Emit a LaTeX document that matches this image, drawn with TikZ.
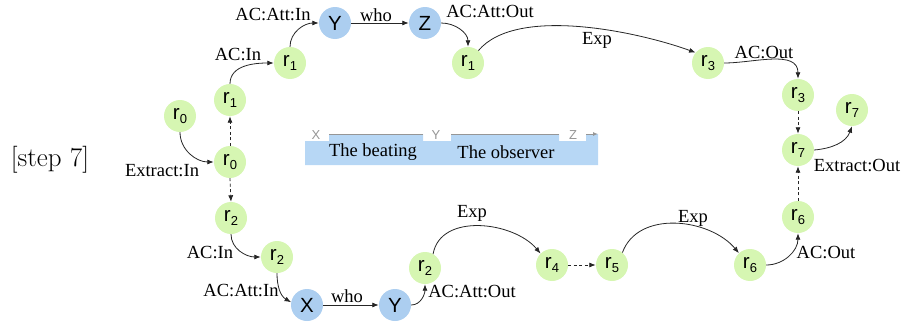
\documentclass[tikz,border=0pt]{standalone}
\usepackage{fontspec}
\newfontfamily\tms{Liberation Serif}
\newfontfamily\hlv{Liberation Sans}
\usetikzlibrary{arrows.meta}
\definecolor{ngreen}{RGB}{214,246,178}
\definecolor{nblue}{RGB}{172,206,240}
\definecolor{barblue}{RGB}{183,215,245}
\definecolor{axgray}{RGB}{150,150,150}
\newcommand\rsub[2]{#1\raisebox{-4pt}{\fontsize{13}{13}\selectfont #2}}
\begin{document}
\begin{tikzpicture}[x=1pt,y=-1pt,
  gnode/.style={circle,fill=ngreen,minimum size=32pt,inner sep=0pt,font=\hlv\fontsize{20.5}{20}\selectfont},
  bnode/.style={circle,fill=nblue,minimum size=32pt,inner sep=0pt,font=\hlv\fontsize{20.5}{20}\selectfont},
  lbl/.style={inner sep=0pt,font=\tms\fontsize{18.5}{20}\selectfont},
  axl/.style={inner sep=0pt,text=axgray,font=\hlv\fontsize{13}{13}\selectfont},
  conn/.style={draw=black!85,line width=0.8pt,-{Latex[length=6.5pt,width=5pt]}},
  dconn/.style={conn,dash pattern=on 3pt off 2.5pt},
]
\useasboundingbox (0,0) rectangle (903,324);

% step label
\node[inner sep=0pt,font=\fontsize{27}{32}\selectfont] (step) at (50,160) {[step 7]};

% bar
\fill[barblue] (305,165) -- (305,141) -- (329,141) -- (329,134) -- (423,134) -- (423,141)
  -- (451,141) -- (451,134) -- (559,134) -- (559,141) -- (586,141) -- (586,134)
  -- (598,134) -- (598,165) -- cycle;
\draw[axgray,line width=1pt] (329,134) -- (423,134);
\draw[axgray,line width=1pt] (451,134) -- (559,134);
\draw[axgray,line width=1pt,-{Latex[length=5pt,width=4pt]}] (586,134) -- (598,134);
\node[axl] (ax) at (316,135) {X};
\node[axl] (ay) at (436,135) {Y};
\node[axl] (az) at (573,135) {Z};
\node[lbl] (tb) at (373,152) {The beating};
\node[lbl] (to) at (506,152) {The observer};

% nodes
\node[gnode] (r0a) at (180,116) {\rsub{r}{0}};
\node[gnode] (r0b) at (230,162) {\rsub{r}{0}};
\node[gnode] (r1a) at (230,100) {\rsub{r}{1}};
\node[gnode] (r1b) at (290,63) {\rsub{r}{1}};
\node[bnode] (y1) at (335,23) {Y};
\node[bnode] (z1) at (425,23) {Z};
\node[gnode] (r1c) at (468,63) {\rsub{r}{1}};
\node[gnode] (r3a) at (708,63) {\rsub{r}{3}};
\node[gnode] (r3b) at (798,95) {\rsub{r}{3}};
\node[gnode] (r7b) at (852,110) {\rsub{r}{7}};
\node[gnode] (r7a) at (798,150) {\rsub{r}{7}};
\node[gnode] (r6a) at (798,217) {\rsub{r}{6}};
\node[gnode] (r6b) at (750,265) {\rsub{r}{6}};
\node[gnode] (r5) at (612,265) {\rsub{r}{5}};
\node[gnode] (r4) at (552,265) {\rsub{r}{4}};
\node[gnode] (r2c) at (425,268) {\rsub{r}{2}};
\node[bnode] (y2) at (395,305) {Y};
\node[bnode] (x2) at (307,305) {X};
\node[gnode] (r2b) at (277,257) {\rsub{r}{2}};
\node[gnode] (r2a) at (231,218) {\rsub{r}{2}};

% labels
\node[lbl] (lexin) at (162,171) {Extract:In};
\node[lbl] (lacin1) at (238,55) {AC:In};
\node[lbl] (laain1) at (273,15) {AC:Att:In};
\node[lbl] (lwho1) at (376,15) {who};
\node[lbl] (laaout1) at (490,12) {AC:Att:Out};
\node[lbl] (lexp1) at (597,40) {Exp};
\node[lbl] (lacout1) at (764,53) {AC:Out};
\node[lbl] (lexout) at (857,166) {Extract:Out};
\node[lbl] (lacout2) at (826,253) {AC:Out};
\node[lbl] (lexp3) at (693,218) {Exp};
\node[lbl] (lexp2) at (472,213) {Exp};
\node[lbl] (laaout2) at (472,292) {AC:Att:Out};
\node[lbl] (lwho2) at (347,296) {who};
\node[lbl] (laain2) at (241,291) {AC:Att:In};
\node[lbl] (lacin2) at (210,253) {AC:In};

% connectors
\draw[conn] (r0a.south) to[out=-90,in=180] (r0b.west);
\draw[dconn] (r0b.north) -- (r1a.south);
\draw[dconn] (r0b.south) -- (r2a.north);
\draw[conn] (r1a.north) to[out=90,in=180] (r1b.west);
\draw[conn] (r1b.north) to[out=90,in=180] (y1.west);
\draw[conn] (y1.east) -- (z1.west);
\draw[conn] (z1.east) to[out=0,in=90] (r1c.north);
\draw[conn] (r1c.50) to[out=50,in=160,looseness=0.7] (r3a.140);
\draw[conn] (r3a.east) to[out=0,in=90] (r3b.north);
\draw[dconn] (r3b.south) -- (r7a.north);
\draw[conn] (r7a.east) to[out=5,in=-110] (r7b.south);
\draw[dconn] (r6a.north) -- (r7a.south);
\draw[conn] (r6b.east) to[out=0,in=-90] (r6a.south);
\draw[conn] (r5.50) to[out=70,in=130] (r6b.133);
\draw[dconn] (r4.east) -- (r5.west);
\draw[conn] (r2c.60) to[out=80,in=130] (r4.135);
\draw[conn] (y2.east) to[out=0,in=-90] (r2c.south);
\draw[conn] (x2.east) -- (y2.west);
\draw[conn] (r2b.south) to[out=-90,in=150] (x2.170);
\draw[conn] (r2a.south) to[out=-90,in=180] (r2b.west);
\end{tikzpicture}
\end{document}
